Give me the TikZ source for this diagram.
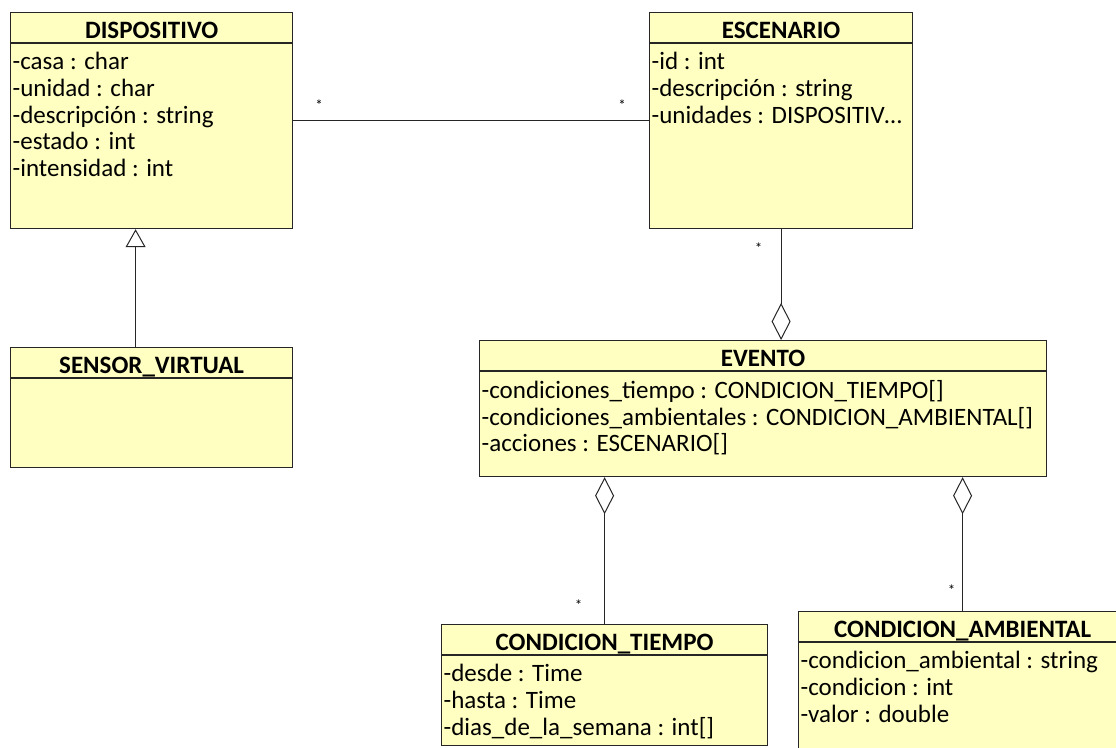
\documentclass[tikz,border=0pt]{standalone}
\usepackage{fontspec}
\setmainfont{Carlito}
\usepackage{tikz}
\usetikzlibrary{arrows.meta,calc,positioning}
\definecolor{umlfill}{RGB}{255,255,194}
\definecolor{umlline}{RGB}{38,38,38}
\tikzset{
	cls/.style={draw=umlline, fill=umlfill, line width=1.2pt, anchor=north west, inner sep=0pt},
	clstitle/.style={font=\fontsize{25}{26.8}\selectfont\bfseries, anchor=base, inner sep=0pt},
	attrs/.style={font=\fontsize{25}{26.8}\selectfont, align=left, inner sep=0pt, execute at begin node=\strut},
	mult/.style={font=\fontsize{15}{16}\selectfont, inner sep=0pt},
	wire/.style={draw=umlline, line width=1pt},
	gen/.style={-{Triangle[open, length=18pt, width=20pt, fill=white]}},
	aggr/.style={-{Diamond[open, length=37pt, width=19pt, fill=white]}},
}
\newcommand{\clssep}[1]{\draw[umlline, line width=1.2pt] ([yshift=-31pt]#1.north west) -- ([yshift=-31pt]#1.north east);}

\begin{document}
\begin{tikzpicture}[x=1pt, y=1pt]
			%%%%% START %%%%%
			\useasboundingbox (0, 0) rectangle (1116, -747);
			
			% classes
			\node[cls, minimum width=282pt, minimum height=216pt] (disp) at (10, -12) {};
			\node[cls, minimum width=263pt, minimum height=216pt] (esc) at (649, -12) {};
			\node[cls, minimum width=282pt, minimum height=120pt] (sensor) at (10, -347) {};
			\node[cls, minimum width=567pt, minimum height=136pt] (evento) at (479, -340) {};
			\node[cls, minimum width=326pt, minimum height=121pt] (ctiempo) at (441, -624) {};
			\node[cls, minimum width=328pt, minimum height=150pt] (cambiental) at (798, -611) {};
			
			\clssep{disp}
			\clssep{esc}
			\clssep{sensor}
			\clssep{evento}
			\clssep{ctiempo}
			\clssep{cambiental}
			
			\node[clstitle] (disptitle) at ([yshift=-26.5pt]disp.north) {DISPOSITIVO};
			\node[clstitle] (esctitle) at ([yshift=-26.5pt]esc.north) {ESCENARIO};
			\node[clstitle] (sensortitle) at ([yshift=-26.5pt]sensor.north) {SENSOR\_VIRTUAL};
			\node[clstitle] (eventotitle) at ([yshift=-26.5pt]evento.north) {EVENTO};
			\node[clstitle] (ctiempotitle) at ([yshift=-26.5pt]ctiempo.north) {CONDICION\_TIEMPO};
			\node[clstitle] (cambientaltitle) at ([yshift=-26.5pt]cambiental.north) {CONDICION\_AMBIENTAL};
			
			\node[attrs, below right=40pt and 2.5pt of disp.north west] (dispattr)
				{-casa : char\\-unidad : char\\-descripción : string\\-estado : int\\-intensidad : int};
			\node[attrs, below right=40pt and 2.5pt of esc.north west] (escattr)
				{-id : int\\-descripción : string\\-unidades : DISPOSITIV…};
			\node[attrs, below right=40pt and 2.5pt of evento.north west] (eventoattr)
				{-condiciones\_tiempo : CONDICION\_TIEMPO[]\\-condiciones\_ambientales : CONDICION\_AMBIENTAL[]\\-acciones : ESCENARIO[]};
			\node[attrs, below right=40pt and 2.5pt of ctiempo.north west] (ctiempoattr)
				{-desde : Time\\-hasta : Time\\-dias\_de\_la\_semana : int[]};
			\node[attrs, below right=40pt and 2.5pt of cambiental.north west] (cambientalattr)
				{-condicion\_ambiental : string\\-condicion : int\\-valor : double};
			
			% relations
			\draw[wire] (disp) -- (esc);
			\draw[wire, gen] ([xshift=-16pt]sensor.north) -- ([xshift=-16pt]disp.south);
			\draw[wire, aggr] (esc.south) -- (esc.south |- evento.north);
			\draw[wire, aggr] (ctiempo.north) -- (ctiempo.north |- evento.south);
			\draw[wire, aggr] (cambiental.north) -- (cambiental.north |- evento.south);
			
			% multiplicities
			\node[mult] (m1) at ([shift={(26, 15)}]disp.east) {*};
			\node[mult] (m2) at ([shift={(-27, 15)}]esc.west) {*};
			\node[mult] (m3) at ([shift={(-22.5, -18.5)}]esc.south) {*};
			\node[mult] (m4) at ([shift={(-26, 18.5)}]ctiempo.north) {*};
			\node[mult] (m5) at ([shift={(-11, 20.5)}]cambiental.north) {*};
			
			%%%%% END %%%%%
\end{tikzpicture}
\end{document}
